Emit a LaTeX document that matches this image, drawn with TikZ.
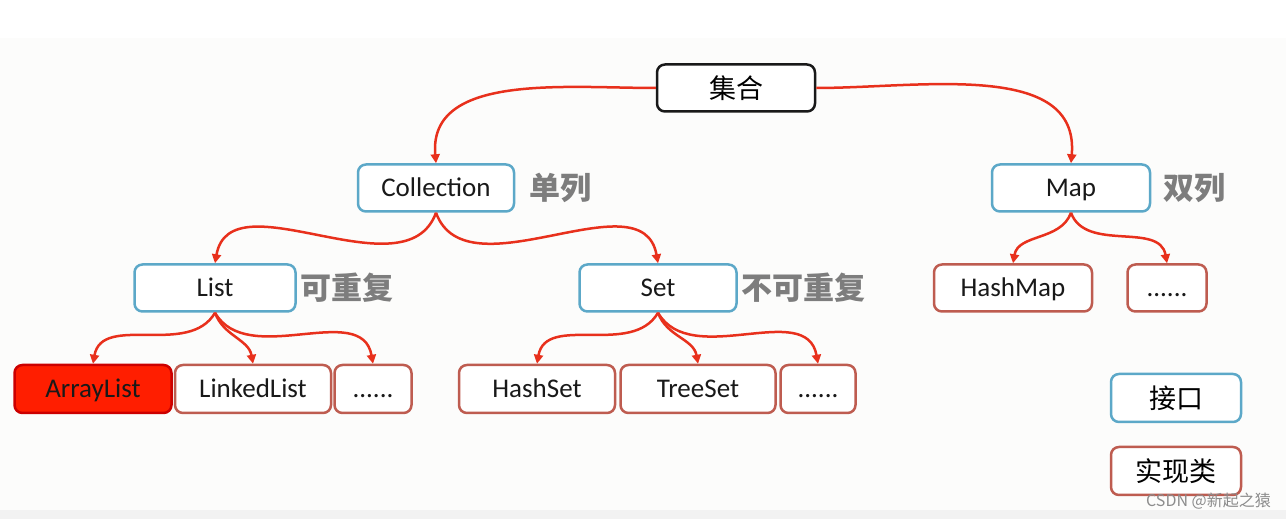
\documentclass[tikz,border=0pt]{standalone}
\usepackage{fontspec}
\setmainfont{Carlito}
\newfontfamily\cjk{Noto Sans CJK SC}
\usetikzlibrary{arrows.meta,positioning}
\definecolor{ifblue}{RGB}{92,168,200}
\definecolor{clsred}{RGB}{190,92,80}
\definecolor{arrred}{RGB}{232,48,28}
\definecolor{tagGray}{RGB}{125,125,125}
\definecolor{hotred}{RGB}{255,30,0}
\definecolor{paper}{RGB}{252,252,251}
\begin{document}
\begin{tikzpicture}[x=1pt,y=1pt,
    box/.style={draw,rounded corners=8pt,line width=2.5pt,minimum height=47pt,inner sep=0pt,
      text height=21pt,text depth=3.5pt,
      fill=white,text=black!90,font=\fontsize{27}{27}\selectfont},
    ifbox/.style={box,draw=ifblue},
    clbox/.style={box,draw=clsred},
    cjkbox/.style={font=\cjk\fontsize{27}{27}\selectfont,text=black,text height=23pt,text depth=2.5pt},
    tag/.style={inner sep=0pt,text=tagGray,font=\cjk\bfseries\fontsize{31}{31}\selectfont},
    arr/.style={draw=arrred,line width=2.5pt,-{Triangle[length=9pt,width=9pt]}}]
    \useasboundingbox (0,0) rectangle (1286,519);
    \fill[paper] (0,0) rectangle (1286,481);
    \fill[black!5] (0,0) rectangle (1286,9);

    \node[box,draw=black!90,cjkbox,minimum width=158pt] (jihe) at (736,431) {集合};
    \node[ifbox,minimum width=156pt] (coll) at (436,331) {Collection};
    \node[ifbox,minimum width=158pt] (map) at (1071,331) {Map};
    \node[ifbox,minimum width=161pt] (list) at (215,231) {List};
    \node[ifbox,minimum width=157pt] (set) at (658,231) {Set};
    \node[clbox,minimum width=158pt] (hmap) at (1013,231) {HashMap};
    \node[clbox,minimum width=79pt] (mdots) at (1167,231) {......};

    \node[clbox,draw=red!80!black,fill=hotred,minimum width=157pt,minimum height=48pt] (alist) at (93,130) {ArrayList};
    \node[clbox,minimum width=156pt,minimum height=48pt] (llist) at (253,130) {LinkedList};
    \node[clbox,minimum width=77pt,minimum height=48pt] (ldots) at (373,130) {......};
    \node[clbox,minimum width=156pt,minimum height=48pt] (hset) at (537,130) {HashSet};
    \node[clbox,minimum width=155pt,minimum height=48pt] (tset) at (698,130) {TreeSet};
    \node[clbox,minimum width=75pt,minimum height=48pt] (sdots) at (818,130) {......};

    \node[ifbox,cjkbox,minimum width=130pt,minimum height=48pt] (ifkey) at (1176,121) {接口};
    \node[clbox,cjkbox,minimum width=130pt,minimum height=48pt] (clkey) at (1176,48) {实现类};

    \node[tag,right=14pt of coll] (t1) {单列};
    \node[tag,right=12pt of map] (t2) {双列};
    \node[tag,right=4pt of list] (t3) {可重复};
    \node[tag,right=4pt of set] (t4) {不可重复};

    \draw[arr] (jihe.west) to[out=180,in=95] (coll.north);
    \draw[arr] (jihe.east) to[out=0,in=85] (map.north);
    \draw[arr] (coll.south) to[out=-110,in=80] (list.north);
    \draw[arr] (coll.south) to[out=-70,in=100] (set.north);
    \draw[arr] (list.south) to[out=-120,in=80] (alist.north);
    \draw[arr] (list.south) to[out=-70,in=100] (llist.north);
    \draw[arr] (list.south) to[out=-60,in=100] (ldots.north);
    \draw[arr] (set.south) to[out=-120,in=80] (hset.north);
    \draw[arr] (set.south) to[out=-70,in=100] (tset.north);
    \draw[arr] (set.south) to[out=-60,in=100] (sdots.north);
    \draw[arr] (map.south) to[out=-110,in=80] (hmap.north);
    \draw[arr] (map.south) to[out=-70,in=100] (mdots.north);

    \node[anchor=east,inner sep=0pt,text=black!45,font=\cjk\fontsize{16}{16}\selectfont] (mark) at (1271,18) {CSDN @新起之猿};
\end{tikzpicture}
\end{document}
